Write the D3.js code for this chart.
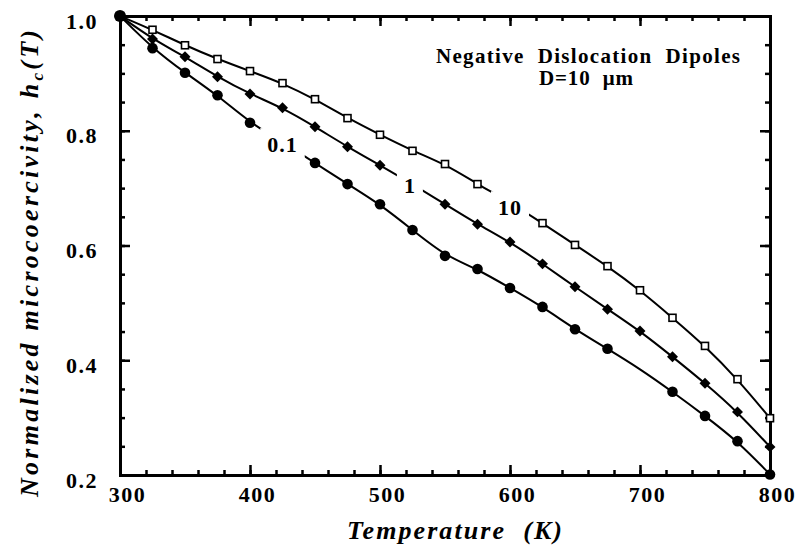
<!DOCTYPE html>
<html><head><meta charset="utf-8">
<script src="https://cdn.jsdelivr.net/npm/d3@7"></script>
<style>
body{margin:0;background:#fff;}
text{font-family:"Liberation Serif","Times New Roman",serif;font-weight:bold;fill:#000;}
</style></head>
<body><svg id="c" width="795" height="547"></svg>
<script>
const temps = [300,325,350,375,400,425,450,475,500,525,550,575,600,625,650,675,700,725,750,775,800];
const h10  = [1.0,0.976,0.949,0.925,0.904,0.883,0.855,0.822,0.793,0.765,0.742,0.707,0.675,0.639,0.601,0.564,0.522,0.474,0.425,0.367,0.299];
const h1   = [1.0,0.960,0.929,0.894,0.864,0.840,0.807,0.772,0.740,0.707,0.672,0.637,0.606,0.568,0.528,0.489,0.451,0.406,0.360,0.310,0.249];
const h01  = [1.0,0.944,0.901,0.862,0.814,0.780,0.744,0.707,0.672,0.627,0.582,0.559,0.526,0.493,0.454,0.420,0.385,0.345,0.303,0.259,0.201];
const h01NoMarker = [700];
const xMajor = [300,400,500,600,700,800];
const yMajor = [0.2,0.4,0.6,0.8,1.0];
const seriesLabels = [
  {text:"0.1", T:425, v:0.775},
  {text:"1",   T:523, v:0.703},
  {text:"10",  T:600, v:0.665}
];

const svg = d3.select("#c");
const x = d3.scaleLinear().domain([300,800]).range([120,770]);
const y = d3.scaleLinear().domain([0.2,1.0]).range([475,16]);
const xMinor = d3.range(300,801,20);
const yMinor = d3.range(0.2,1.0001,0.05).map(v=>+v.toFixed(2));

function styleAxis(g){
  g.select(".domain").attr("stroke-width",3).attr("stroke-linecap","square");
  g.selectAll(".tick line").attr("stroke-width",2.5);
}
const axes = svg.append("g");
function mk(axisFn, scale, vals, size, tx, ty, labels, pad){
  const a = axisFn(scale).tickValues(vals).tickSizeInner(size).tickSizeOuter(0).tickPadding(pad||0);
  if(!labels) a.tickFormat("");
  else a.tickFormat(labels);
  const g = axes.append("g").attr("transform",`translate(${tx},${ty})`).call(a);
  styleAxis(g);
  return g;
}
mk(d3.axisBottom, x, xMinor, -5, 0, 475);
const gb = mk(d3.axisBottom, x, xMajor, -10, 0, 475, d3.format("d"), 11);
gb.selectAll("text").attr("font-size",22).attr("letter-spacing","1.5px").attr("dx",7)
  .attr("font-family","Liberation Serif").attr("font-weight","bold");
mk(d3.axisTop, x, xMinor, -5, 0, 16);
mk(d3.axisTop, x, xMajor, -10, 0, 16);
mk(d3.axisLeft, y, yMinor, -5, 120, 0);
const gl = mk(d3.axisLeft, y, yMajor, -10, 120, 0, d3.format(".1f"), 22);
gl.selectAll("text").attr("font-size",22).attr("letter-spacing","1.5px").attr("dy","0.55em")
  .attr("font-family","Liberation Serif").attr("font-weight","bold");
mk(d3.axisRight, y, yMinor, -5, 770, 0);
mk(d3.axisRight, y, yMajor, -10, 770, 0);
axes.selectAll(".tick text").attr("fill","#000");

const line = d3.line().x(d=>x(d[0])).y(d=>y(d[1])).curve(d3.curveBasis);
const plot = svg.append("g");
const series = [
  {vals:h10, type:"square", skip:[]},
  {vals:h1, type:"diamond", skip:[]},
  {vals:h01, type:"circle", skip:h01NoMarker}
];
series.forEach(s=>{
  const pts = temps.map((t,i)=>[t,s.vals[i]]);
  plot.append("path").datum(pts).attr("d",line).attr("fill","none").attr("stroke","#000").attr("stroke-width",2);
});
series.forEach(s=>{
  const pts = temps.map((t,i)=>[t,s.vals[i]]).filter(p=>!s.skip.includes(p[0]));
  const g = plot.append("g");
  if(s.type==="circle"){
    g.selectAll("circle").data(pts).join("circle")
      .attr("cx",d=>x(d[0])).attr("cy",d=>y(d[1])).attr("r",d=>d[0]===300?6:5.3).attr("fill","#000");
  } else if(s.type==="diamond"){
    g.selectAll("path").data(pts).join("path")
      .attr("d",d3.symbol(d3.symbolSquare,60))
      .attr("transform",d=>`translate(${x(d[0])},${y(d[1])}) rotate(45)`).attr("fill","#000");
  } else {
    g.selectAll("rect").data(pts).join("rect")
      .attr("x",d=>x(d[0])-3.5).attr("y",d=>y(d[1])-3.5).attr("width",7).attr("height",7)
      .attr("fill","#fff").attr("stroke","#000").attr("stroke-width",1.6);
  }
});
const labG = svg.append("g");
seriesLabels.forEach(l=>{
  const cx = x(l.T), cy = y(l.v);
  const g = labG.append("g");
  const bg = g.append("rect").attr("fill","#fff");
  const t = g.append("text").attr("x",cx).attr("y",cy+7).attr("text-anchor","middle")
    .attr("font-size",22).attr("letter-spacing","1px").text(l.text);
  const b = t.node().getBBox();
  bg.attr("x",b.x-7).attr("y",b.y-4).attr("width",b.width+14).attr("height",b.height+6);
});
svg.append("text").attr("x",436).attr("y",63).attr("font-size",21).attr("textLength",304)
  .attr("lengthAdjust","spacing").style("white-space","pre").text("Negative  Dislocation  Dipoles");
svg.append("text").attr("x",539).attr("y",85).attr("font-size",21).attr("textLength",94)
  .attr("lengthAdjust","spacing").style("white-space","pre").text("D=10  \u03bcm");
svg.append("text").attr("x",347).attr("y",539).attr("font-size",26).attr("font-style","italic")
  .attr("textLength",215).attr("lengthAdjust","spacing").style("white-space","pre").text("Temperature  (K)");
const yt = svg.append("text").attr("transform","translate(38,497) rotate(-90)")
  .attr("font-size",26).attr("font-style","italic").attr("textLength",467).attr("lengthAdjust","spacing");
yt.append("tspan").text("Normalized microcoercivity, h");
yt.append("tspan").attr("font-size",17).attr("dy",5).text("c");
yt.append("tspan").attr("dy",-5).text("(T)");
</script></body></html>
